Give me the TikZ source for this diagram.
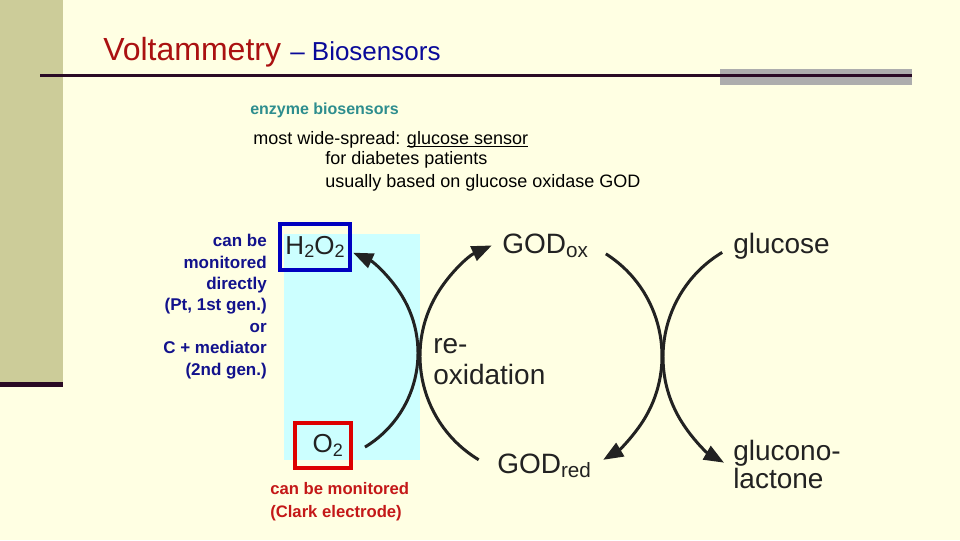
\documentclass[tikz,border=0pt]{standalone}
\usepackage{fontspec}
\setmainfont{Liberation Sans}
\usetikzlibrary{arrows.meta}
\definecolor{bg}{HTML}{FFFFE3}
\definecolor{strip}{HTML}{CCCC99}
\definecolor{rulec}{HTML}{2A0A25}
\definecolor{graybar}{HTML}{ADADAD}
\definecolor{titlered}{HTML}{AA1111}
\definecolor{titleblue}{HTML}{0A0A99}
\definecolor{teal}{HTML}{2E8E8E}
\definecolor{bluetext}{HTML}{12128C}
\definecolor{redtext}{HTML}{C41818}
\definecolor{cyanbg}{HTML}{CCFFFF}
\definecolor{boxblue}{HTML}{0000C0}
\definecolor{boxred}{HTML}{DD0000}
\definecolor{arcc}{HTML}{222222}
\newcommand\chemsub[3]{\raisebox{-#3}{\fontsize{#1}{#1}\selectfont #2}}
\newcommand\myul[1]{\leavevmode\setbox0\hbox{#1}\rlap{\rule[-2.6pt]{\wd0}{1.3pt}}\box0}
\begin{document}
\begin{tikzpicture}[x=0.75pt,y=-0.75pt,
  lbl/.style={inner sep=0pt, anchor=base west},
  body/.style={lbl, font=\fontsize{13.5}{16}\selectfont, text=black},
  dtext/.style={inner sep=0pt, font=\fontsize{21}{23.25}\selectfont, text=arcc},
  cyc/.style={line width=2.25pt, draw=arcc, -{Triangle[length=15pt,width=11.5pt]}}]
\useasboundingbox (0,0) rectangle (960,540);
\fill[bg] (0,0) rectangle (960,540);
\fill[strip] (0,0) rectangle (63,382);
\fill[rulec] (0,382) rectangle (63,387);
\fill[graybar] (720,69) rectangle (912,85);
\draw[rulec, line width=2.6pt] (40,75.5) -- (912,75.5);

% titles
\node[lbl, text=titlered, font=\fontsize{24}{28}\selectfont] (title) at (103,60) {Voltammetry};
\node[lbl, text=titleblue, font=\fontsize{19.5}{22}\selectfont] (subtitle) at (290,60) {– Biosensors};

% body text
\node[lbl, text=teal, font=\bfseries\fontsize{12}{14}\selectfont] (enz) at (250,114) {enzyme biosensors};
\node[body] (most) at (253,144) {most wide-spread: \myul{glucose sensor}};
\node[body] (diab) at (325,164) {for diabetes patients};
\node[body] (god) at (325,187) {usually based on glucose oxidase GOD};

% left note
\node[inner sep=0pt, anchor=north east, align=right, text=bluetext,
      font=\bfseries\fontsize{12.75}{16.1}\selectfont] (blue) at (267,234)
  {can be\\monitored\\directly\\(Pt, 1st gen.)\\or\\C + mediator\\(2nd gen.)};

% cyan panel
\fill[cyanbg] (284,234) rectangle (420,460);

% boxes
\node[draw=boxblue, line width=3pt, minimum width=52.5pt, minimum height=34.5pt,
      inner sep=0pt, font=\fontsize{19.5}{22}\selectfont, text=arcc] (h2o2) at (315,247)
  {H\chemsub{13.5}{2}{2.5pt}O\chemsub{13.5}{2}{2.5pt}};
\node[draw=boxred, line width=3pt, minimum width=42pt, minimum height=33.75pt,
      inner sep=0pt, font=\fontsize{19.5}{22}\selectfont, text=arcc] (o2) at (323,445.5)
  {\hspace*{7pt}O\chemsub{13.5}{2}{2.5pt}};

\node[inner sep=0pt, anchor=north west, align=left, text=redtext,
      font=\bfseries\fontsize{12.5}{17.25}\selectfont] (clark) at (270,482)
  {can be monitored\\(Clark electrode)};

% diagram labels
\node[dtext, anchor=base west] (godox) at (502,253) {GOD\chemsub{15.5}{ox}{3.5pt}};
\node[dtext, anchor=base west] (godred) at (497,473) {GOD\chemsub{15.5}{red}{3.5pt}};
\node[dtext, anchor=north west, align=left] (reox) at (433,338) {re-\\oxidation};
\node[dtext, anchor=base west] (glucose) at (733,253) {glucose};
\node[dtext, anchor=north west, align=left, font=\fontsize{21}{21}\selectfont] (lactone) at (733,440) {glucono-\\lactone};

% cycle centres
\coordinate (cL) at (308,353);
\coordinate (cM) at (541,356);
\coordinate (cR) at (785,357);
\path (cL) ++(58.8:110) coordinate (o2out);
\path (cM) ++(121:121) coordinate (redout);
\path (cM) ++(-57.6:121) coordinate (oxout);
\path (cR) ++(239:122) coordinate (glcout);

% connectors
\draw[cyc] (o2out) arc[start angle=58.8, end angle=-65.8, radius=110];
\draw[cyc] (redout) arc[start angle=121, end angle=246, radius=121];
\draw[cyc] (oxout) arc[start angle=-57.6, end angle=59.1, radius=121];
\draw[cyc] (glcout) arc[start angle=239, end angle=120, radius=122];
\end{tikzpicture}
\end{document}
